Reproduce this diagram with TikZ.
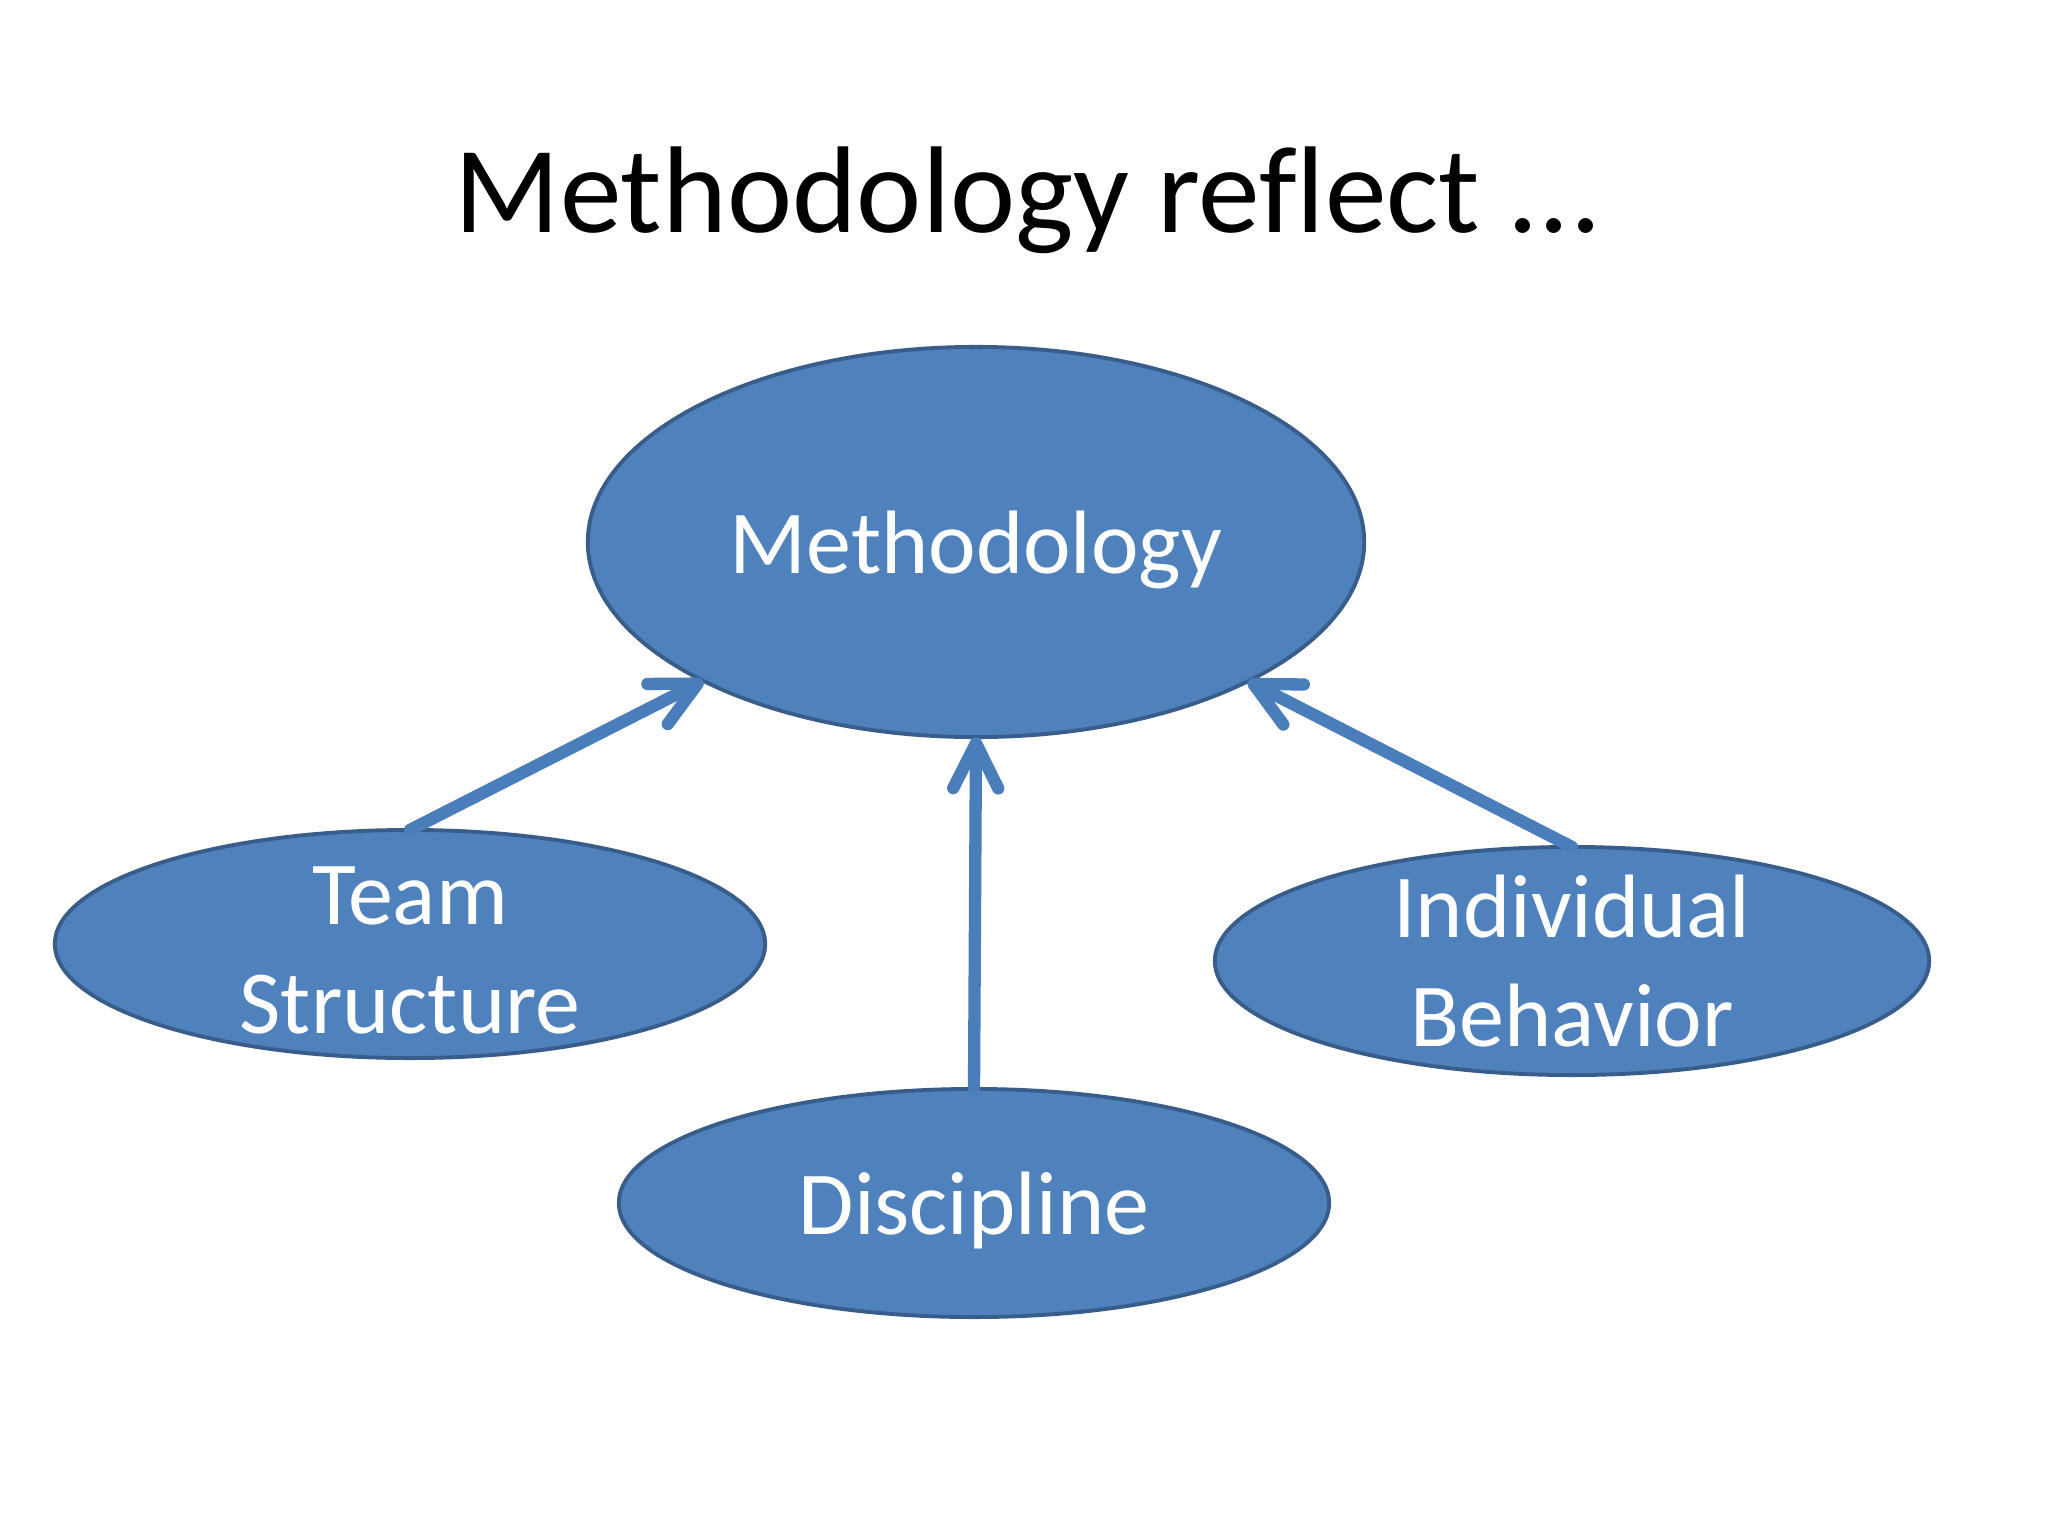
\documentclass[tikz,border=0pt]{standalone}
\usepackage{fontspec}
\setmainfont[Ligatures={NoCommon}]{Carlito}
\usetikzlibrary{shapes.geometric,arrows.meta}
\definecolor{ellfill}{HTML}{4F81BD}
\definecolor{elldraw}{HTML}{385D8A}
\definecolor{arrcol}{HTML}{4A7EBB}
\tikzset{
  ell/.style={ellipse, fill=ellfill, draw=elldraw, line width=1.1pt, inner xsep=0pt, inner ysep=-0.3cm, outer sep=0pt,
    text=white, align=center, font=\fontsize{25.6pt}{31pt}\selectfont},
  conn/.style={draw=arrcol, line width=3.5pt, line cap=round,
    -{Straight Barb[length=12.8pt, width=12.8pt, round]}},
  titletext/.style={font=\fontsize{35.1pt}{40pt}\selectfont, text=black, anchor=base, inner sep=0pt}
}
\begin{document}
\begin{tikzpicture}[x=0.01cm, y=-0.01cm]
\useasboundingbox[fill=white] (0,0) rectangle (2048,1536);
\node[titletext] (title) at (1028,232) {Methodology reflect ...};
\node[ell, minimum width=7.76cm, minimum height=3.90cm, text depth=0pt] (meth) at (976,542) {Methodology};
\node[ell, minimum width=7.10cm, minimum height=2.28cm] (team) at (410,944) {\rule{0pt}{20pt}Team\\Structure};
\node[ell, minimum width=7.14cm, minimum height=2.28cm] (indiv) at (1572,961) {Individual\\Behavior};
\node[ell, minimum width=7.10cm, minimum height=2.28cm, text depth=0pt] (disc) at (974,1203) {Discipline};
\draw[conn] (team.north) -- (meth);
\draw[conn] (disc.north) -- (meth.south);
\draw[conn] (indiv.north) -- (meth);
\end{tikzpicture}
\end{document}
